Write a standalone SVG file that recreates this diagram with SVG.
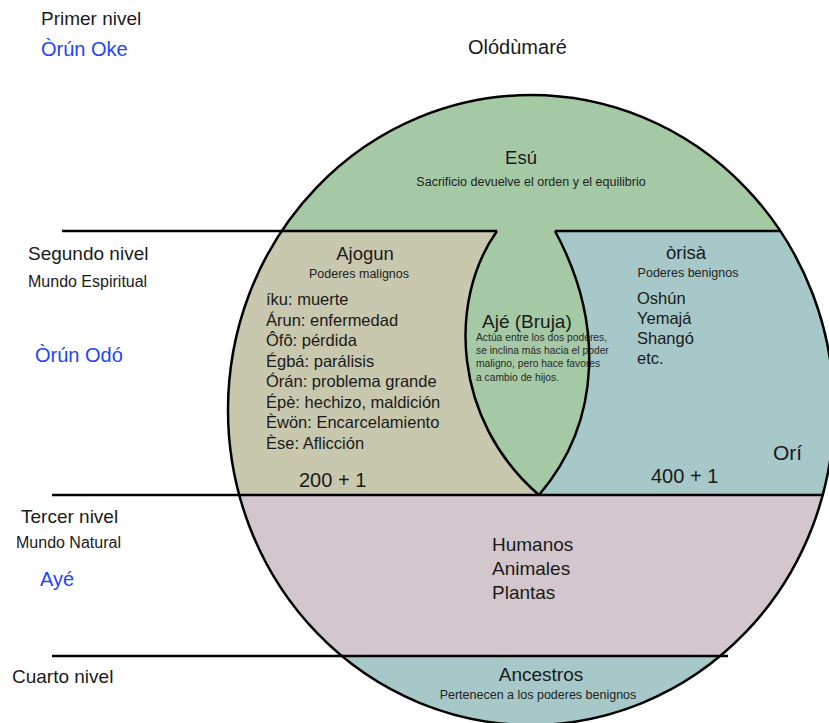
<svg xmlns="http://www.w3.org/2000/svg" width="829" height="723" viewBox="0 0 829 723">
<defs>
  <clipPath id="world"><ellipse cx="531" cy="410" rx="303" ry="315"/></clipPath>
</defs>
<style>
  text { font-family: "Liberation Sans", Arial, Helvetica, sans-serif; fill: #1a1a1a; }
  .lvl { font-size: 19px; }
  .sub { font-size: 16px; }
  .blue { font-size: 20px; fill: #2244ff; }
  .hdr { font-size: 18.5px; }
  .note { font-size: 12.5px; fill: #222; }
  .item { font-size: 16.5px; }
  .big { font-size: 19px; }
  .tiny { font-size: 10.3px; fill: #2a2a2a; }
  .num { font-size: 20px; }
  .mid { text-anchor: middle; }
  .line { stroke: #000; stroke-width: 2.5; fill: none; }
  .green { fill: #a4c9a4; }
  .khaki { fill: #c8c8ae; }
  .teal { fill: #a6c8c8; }
  .mauve { fill: #d3c6cc; }
</style>

<g id="labels">
  <text class="lvl" x="41" y="25">Primer nivel</text>
  <text class="blue" x="41" y="56">Òrún Oke</text>
  <text class="lvl" x="28" y="260">Segundo nivel</text>
  <text class="sub" x="28" y="287">Mundo Espiritual</text>
  <text class="blue" x="35" y="362">Òrún Odó</text>
  <text class="lvl" x="21" y="523">Tercer nivel</text>
  <text class="sub" x="16" y="548">Mundo Natural</text>
  <text class="blue" x="40" y="586">Ayé</text>
  <text class="lvl" x="12" y="683">Cuarto nivel</text>
</g>

<g id="olodumare">
  <text class="blue" style="fill:#1a1a1a" x="468" y="54">Olódùmaré</text>
</g>

<g id="esu">
  <rect class="green" x="0" y="0" width="829" height="231" clip-path="url(#world)"/>
  <text class="hdr mid" x="521" y="164">Esú</text>
  <text class="note mid" x="531" y="186">Sacrificio devuelve el orden y el equilibrio</text>
</g>

<g id="ajogun">
  <path class="khaki" d="M 0,231 H 497 C 448,300 452,420 539,495 H 0 Z" clip-path="url(#world)"/>
  <text class="hdr mid" x="365" y="260">Ajogun</text>
  <text class="note mid" x="359" y="278">Poderes malignos</text>
  <text class="item" x="266" y="305">íku: muerte</text>
  <text class="item" x="266" y="325.5">Árun: enfermedad</text>
  <text class="item" x="266" y="346">Ôfô: pérdida</text>
  <text class="item" x="266" y="366.5">Égbá: parálisis</text>
  <text class="item" x="266" y="387">Órán: problema grande</text>
  <text class="item" x="266" y="407.5">Épè: hechizo, maldición</text>
  <text class="item" x="266" y="428">Èwön: Encarcelamiento</text>
  <text class="item" x="266" y="448.5">Èse: Aflicción</text>
  <text class="num" x="299" y="487">200 + 1</text>
</g>

<g id="orisa">
  <path class="teal" d="M 555,231 C 603,320 603,420 539,495 H 900 V 231 Z" clip-path="url(#world)"/>
  <text class="hdr mid" x="686" y="259">òrisà</text>
  <text class="note mid" x="688" y="277">Poderes benignos</text>
  <text class="item" x="637" y="304">Oshún</text>
  <text class="item" x="637" y="324">Yemajá</text>
  <text class="item" x="637" y="344">Shangó</text>
  <text class="item" x="637" y="364">etc.</text>
  <text class="num" style="font-size:21px" x="773" y="460">Orí</text>
  <text class="num" x="651" y="483">400 + 1</text>
</g>

<g id="aje">
  <path class="green" d="M 497,231 C 448,300 452,420 539,495 C 603,420 603,320 555,231 Z"/>
  <text class="big" x="482" y="328">Ajé (Bruja)</text>
  <text class="tiny" x="476" y="341">Actúa entre los dos poderes,</text>
  <text class="tiny" x="476" y="354">se inclina más hacia el poder</text>
  <text class="tiny" x="476" y="367">maligno, pero hace favores</text>
  <text class="tiny" x="476" y="381">a cambio de hijos.</text>
</g>

<g id="humanos">
  <rect class="mauve" x="0" y="495" width="829" height="161" clip-path="url(#world)"/>
  <text class="big" x="492" y="551">Humanos</text>
  <text class="big" x="492" y="575">Animales</text>
  <text class="big" x="492" y="599">Plantas</text>
</g>

<g id="ancestros">
  <rect class="teal" x="0" y="656" width="829" height="80" clip-path="url(#world)"/>
  <text class="big mid" x="541" y="681">Ancestros</text>
  <text class="note mid" x="538" y="699">Pertenecen a los poderes benignos</text>
</g>

<g id="connectors">
  <line class="line" x1="62" y1="231" x2="497" y2="231"/>
  <line class="line" x1="555" y1="231" x2="781" y2="231"/>
  <line class="line" x1="52" y1="495" x2="824" y2="495"/>
  <line class="line" x1="52" y1="656" x2="728" y2="656"/>
  <path class="line" d="M 497,231 C 448,300 452,420 539,495"/>
  <path class="line" d="M 555,231 C 603,320 603,420 539,495"/>
  <ellipse class="line" cx="531" cy="410" rx="303" ry="315" stroke-width="2.8"/>
</g>
</svg>
